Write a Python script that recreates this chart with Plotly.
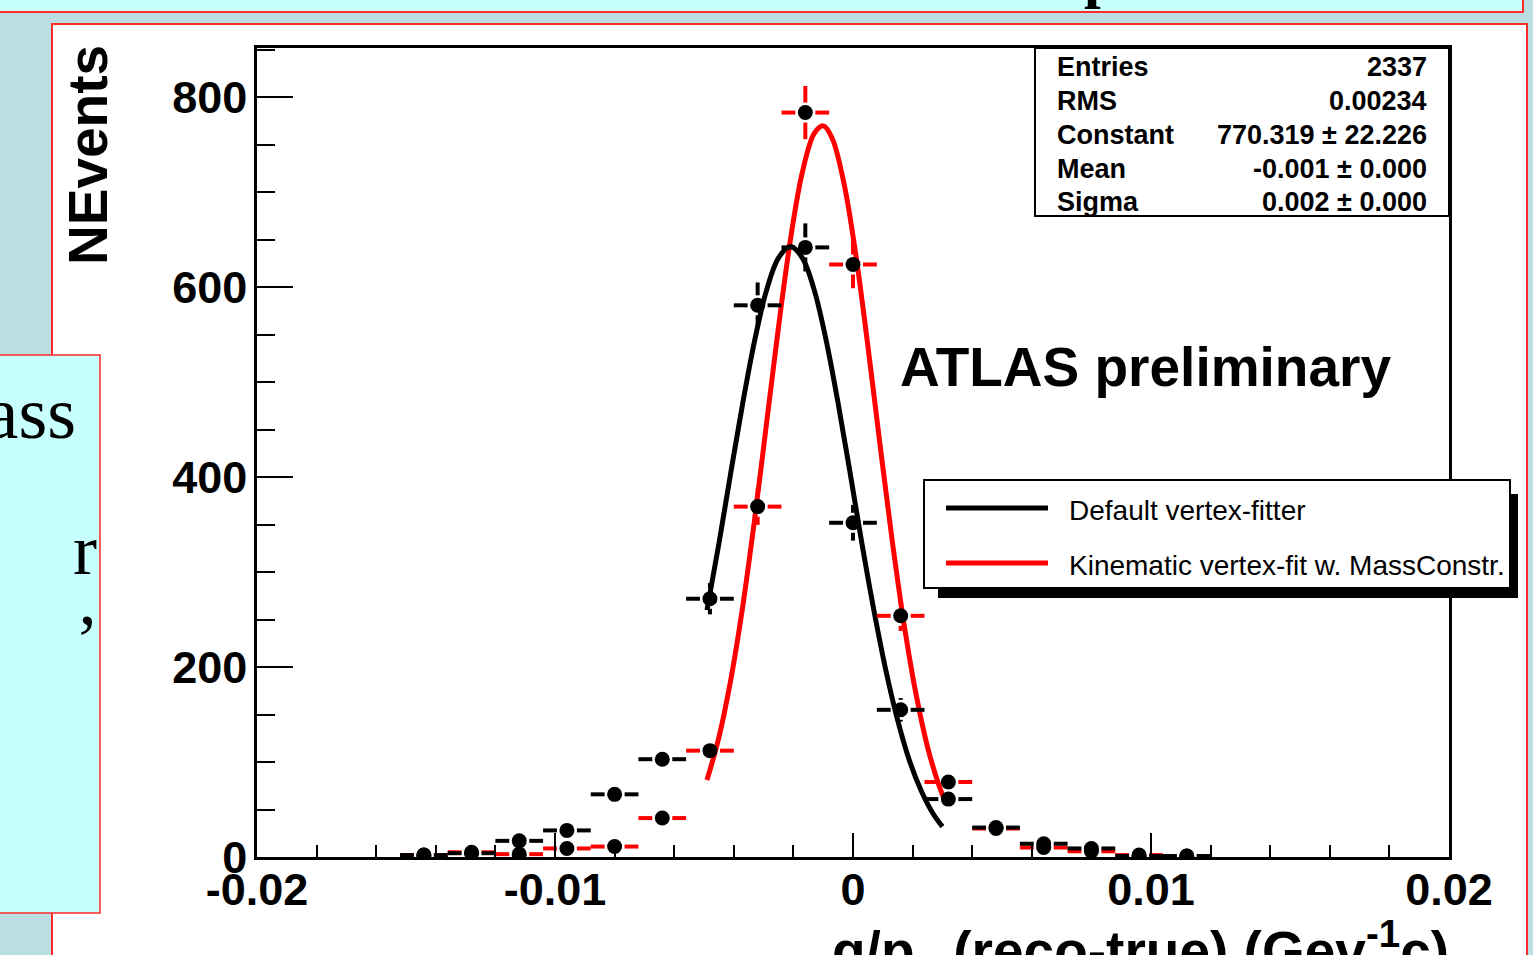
import plotly.graph_objects as go

W, H = 1533, 955

# ---------------- data ----------------
bin_centers = [-0.0144, -0.0128, -0.0112, -0.0096, -0.0080, -0.0064, -0.0048, -0.0032,
               -0.0016, 0.0, 0.0016, 0.0032, 0.0048, 0.0064, 0.0080, 0.0096, 0.0112]
default_counts = [2, 4, 17, 28, 66, 103, 272, 581, 642, 352, 155, 61, 31, 14, 9, 1, 1]
default_errors = [1.4, 2.0, 4.1, 5.3, 8.1, 10.1, 16.5, 24.1, 25.3, 18.8, 12.4, 7.8, 5.6, 3.7, 3.0, 1.0, 1.0]
kinematic_counts = [2, 5, 3, 9, 11, 41, 112, 369, 784, 624, 254, 79, 30, 10, 6, 2, 1]
kinematic_errors = [1.4, 2.2, 1.7, 3.0, 3.3, 6.4, 10.6, 19.2, 28.0, 25.0, 15.9, 8.9, 5.5, 3.2, 2.4, 1.4, 1.0]
bin_half_width = 0.0008

# Gaussian fit curves
kin_fit_x = [-0.0049, -0.0045, -0.0041, -0.0037, -0.0033, -0.0029, -0.0025, -0.0021, -0.0017,
             -0.0013, -0.0010, -0.0007, -0.0003, 0.0001, 0.0005, 0.0009, 0.0013, 0.0017,
             0.0021, 0.0025, 0.0029, 0.0031]
kin_fit_y = [81, 126, 187, 264, 356, 457, 558, 650, 721, 762, 770, 757, 709, 633, 538, 436,
             337, 248, 174, 116, 74, 58]
def_fit_x = [-0.0049, -0.0045, -0.0041, -0.0037, -0.0033, -0.0029, -0.0025, -0.0021, -0.0017,
             -0.0013, -0.0009, -0.0005, -0.0001, 0.0003, 0.0007, 0.0011, 0.0015, 0.0019,
             0.0023, 0.0027, 0.0030]
def_fit_y = [260, 330, 405, 478, 544, 597, 631, 643, 631, 597, 544, 478, 405, 330, 260, 197,
             144, 101, 69, 45, 32]

x_tick_vals = [-0.02, -0.01, 0, 0.01, 0.02]
x_tick_text = ["-0.02", "-0.01", "0", "0.01", "0.02"]
y_tick_vals = [0, 200, 400, 600, 800]
y_tick_text = ["0", "200", "400", "600", "800"]

stats_labels = ["Entries", "RMS", "Constant", "Mean", "Sigma"]
stats_values = ["2337", "0.00234", "770.319 ± 22.226", "-0.001 ± 0.000", "0.002 ± 0.000"]
legend_names = ["Default vertex-fitter", "Kinematic vertex-fit w. MassConstr."]

# ---------------- layout helpers ----------------
def PX(px):
    return px / W

def PY(py):
    return 1 - py / H

plot_l, plot_r, plot_t, plot_b = 257, 1449, 48, 857
x_range = [-0.02, 0.02]
y_range = [0, 852]
px_per_x = (plot_r - plot_l) / (x_range[1] - x_range[0])
px_per_y = (plot_b - plot_t) / (y_range[1] - y_range[0])
gap_x = 10 / px_per_x
gap_y = 10 / px_per_y


def error_segments(xs, ys, errs):
    sx, sy = [], []
    for x, y, e in zip(xs, ys, errs):
        sx += [x - bin_half_width, x - gap_x, None, x + gap_x, x + bin_half_width, None]
        sy += [y, y, None, y, y, None]
        if e > gap_y:
            sx += [x, x, None, x, x, None]
            sy += [y + gap_y, y + e, None, y - gap_y, y - e, None]
    return sx, sy


RED = "#FF0000"
fig = go.Figure()

# fit curves
fig.add_trace(go.Scatter(x=kin_fit_x, y=kin_fit_y, mode="lines", line=dict(color=RED, width=5, shape="spline"),
                         showlegend=False, hoverinfo="skip"))
fig.add_trace(go.Scatter(x=def_fit_x, y=def_fit_y, mode="lines", line=dict(color="black", width=5, shape="spline"),
                         showlegend=False, hoverinfo="skip"))

# error bars
ksx, ksy = error_segments(bin_centers, kinematic_counts, kinematic_errors)
fig.add_trace(go.Scatter(x=ksx, y=ksy, mode="lines", line=dict(color=RED, width=4), connectgaps=False,
                         showlegend=False, hoverinfo="skip"))
dsx, dsy = error_segments(bin_centers, default_counts, default_errors)
fig.add_trace(go.Scatter(x=dsx, y=dsy, mode="lines", line=dict(color="black", width=4), connectgaps=False,
                         showlegend=False, hoverinfo="skip"))

# markers
fig.add_trace(go.Scatter(x=bin_centers, y=kinematic_counts, mode="markers",
                         marker=dict(color="black", size=15, symbol="circle"), showlegend=False))
fig.add_trace(go.Scatter(x=bin_centers, y=default_counts, mode="markers",
                         marker=dict(color="black", size=15, symbol="circle"), showlegend=False))

RED_BORDER = "#FF2A2A"
CYAN = "#C8FFFF"
shapes = [
    # top banner
    dict(type="rect", xref="paper", yref="paper", x0=PX(-10), x1=PX(1523), y0=PY(12), y1=PY(-10),
         fillcolor=CYAN, line=dict(color=RED_BORDER, width=2), layer="below"),
    # white slide panel
    dict(type="rect", xref="paper", yref="paper", x0=PX(52), x1=PX(1527), y0=PY(990), y1=PY(24),
         fillcolor="white", line=dict(color=RED_BORDER, width=2), layer="below"),
    # left text box
    dict(type="rect", xref="paper", yref="paper", x0=PX(-10), x1=PX(100), y0=PY(913), y1=PY(355),
         fillcolor=CYAN, line=dict(color=RED_BORDER, width=1.5), layer="below"),
    # stats box
    dict(type="rect", xref="paper", yref="paper", x0=PX(1035), x1=PX(1449), y0=PY(216), y1=PY(48),
         fillcolor="white", line=dict(color="black", width=2), layer="above"),
    # legend shadow
    dict(type="rect", xref="paper", yref="paper", x0=PX(938), x1=PX(1518), y0=PY(598), y1=PY(494),
         fillcolor="black", line=dict(width=0), layer="above"),
    # legend box
    dict(type="rect", xref="paper", yref="paper", x0=PX(924), x1=PX(1510), y0=PY(588), y1=PY(480),
         fillcolor="white", line=dict(color="black", width=2), layer="above"),
    # legend lines
    dict(type="line", xref="paper", yref="paper", x0=PX(946), x1=PX(1048), y0=PY(508), y1=PY(508),
         line=dict(color="black", width=5), layer="above"),
    dict(type="line", xref="paper", yref="paper", x0=PX(946), x1=PX(1048), y0=PY(563), y1=PY(563),
         line=dict(color=RED, width=5), layer="above"),
]

SANS = "Liberation Sans"
SERIF = "Liberation Serif"
annotations = []
# stats text
row_y = [67, 101, 135, 169, 202]
for lab, val, ry in zip(stats_labels, stats_values, row_y):
    annotations.append(dict(x=PX(1055), y=PY(ry), xref="paper", yref="paper", text=lab, showarrow=False,
                            xanchor="left", yanchor="middle",
                            font=dict(family=SANS, size=27, color="black", weight="bold")))
    annotations.append(dict(x=PX(1429), y=PY(ry), xref="paper", yref="paper", text=val, showarrow=False,
                            xanchor="right", yanchor="middle",
                            font=dict(family=SANS, size=27, color="black", weight="bold")))
# legend text
for name, ly in zip(legend_names, [510, 565]):
    annotations.append(dict(x=PX(1067), y=PY(ly), xref="paper", yref="paper", text=name, showarrow=False,
                            xanchor="left", yanchor="middle",
                            font=dict(family=SANS, size=28, color="black")))
# ATLAS label
annotations.append(dict(x=PX(898), y=PY(367), xref="paper", yref="paper", text="ATLAS preliminary",
                        showarrow=False, xanchor="left", yanchor="middle",
                        font=dict(family=SANS, size=55, color="black", weight="bold")))
# axis titles
annotations.append(dict(x=PX(88), y=PY(155), xref="paper", yref="paper", text="NEvents", textangle=-90,
                        showarrow=False, xanchor="center", yanchor="middle",
                        font=dict(family=SANS, size=55, color="black", weight="bold")))
annotations.append(dict(x=PX(1451), y=PY(951), xref="paper", yref="paper",
                        text="q/p<sub>T</sub> (reco-true) (Gev<sup>-1</sup>c)",
                        showarrow=False, xanchor="right", yanchor="middle",
                        font=dict(family=SANS, size=55, color="black", weight="bold")))
# slide text fragments (partly hidden behind the plot)
annotations.append(dict(x=PX(78), y=PY(413), xref="paper", yref="paper", text="mass", showarrow=False,
                        xanchor="right", yanchor="middle", font=dict(family=SERIF, size=74, color="black")))
annotations.append(dict(x=PX(99), y=PY(550), xref="paper", yref="paper", text="r", showarrow=False,
                        xanchor="right", yanchor="middle", font=dict(family=SERIF, size=72, color="black")))
annotations.append(dict(x=PX(101), y=PY(640), xref="paper", yref="paper", text="’", showarrow=False,
                        xanchor="right", yanchor="middle", font=dict(family=SERIF, size=72, color="black")))
annotations.append(dict(x=PX(1100), y=PY(-24), xref="paper", yref="paper", text="p", showarrow=False,
                        xanchor="center", yanchor="middle",
                        font=dict(family=SERIF, size=60, color="black", weight="bold")))

tickfont = dict(family=SANS, size=45, color="black", weight="bold")
fig.update_layout(
    width=W, height=H,
    margin=dict(l=0, r=0, t=0, b=0, pad=0, autoexpand=False),
    paper_bgcolor="#BBDEE2",
    plot_bgcolor="white",
    shapes=shapes,
    annotations=annotations,
    showlegend=False,
    xaxis=dict(domain=[PX(plot_l), PX(plot_r)], range=x_range, showgrid=False, zeroline=False,
               automargin=False,
               showline=True, linecolor="black", linewidth=2.5, mirror=True,
               ticks="inside", ticklen=24, tickwidth=2, tickcolor="black",
               tickmode="array", tickvals=x_tick_vals, ticktext=x_tick_text, tickfont=tickfont,
               ticklabelstandoff=-9,
               minor=dict(dtick=0.002, tick0=0, ticks="inside", ticklen=12, tickwidth=2, tickcolor="black",
                          showgrid=False)),
    yaxis=dict(domain=[PY(plot_b), PY(plot_t)], range=y_range, showgrid=False, zeroline=False,
               automargin=False,
               showline=True, linecolor="black", linewidth=2.5, mirror=True,
               ticks="inside", ticklen=36, tickwidth=2, tickcolor="black",
               tickmode="array", tickvals=y_tick_vals, ticktext=y_tick_text, tickfont=tickfont,
               ticklabelstandoff=-2,
               minor=dict(dtick=50, tick0=0, ticks="inside", ticklen=18, tickwidth=2, tickcolor="black",
                          showgrid=False)),
)

fig.write_html("out.html")
